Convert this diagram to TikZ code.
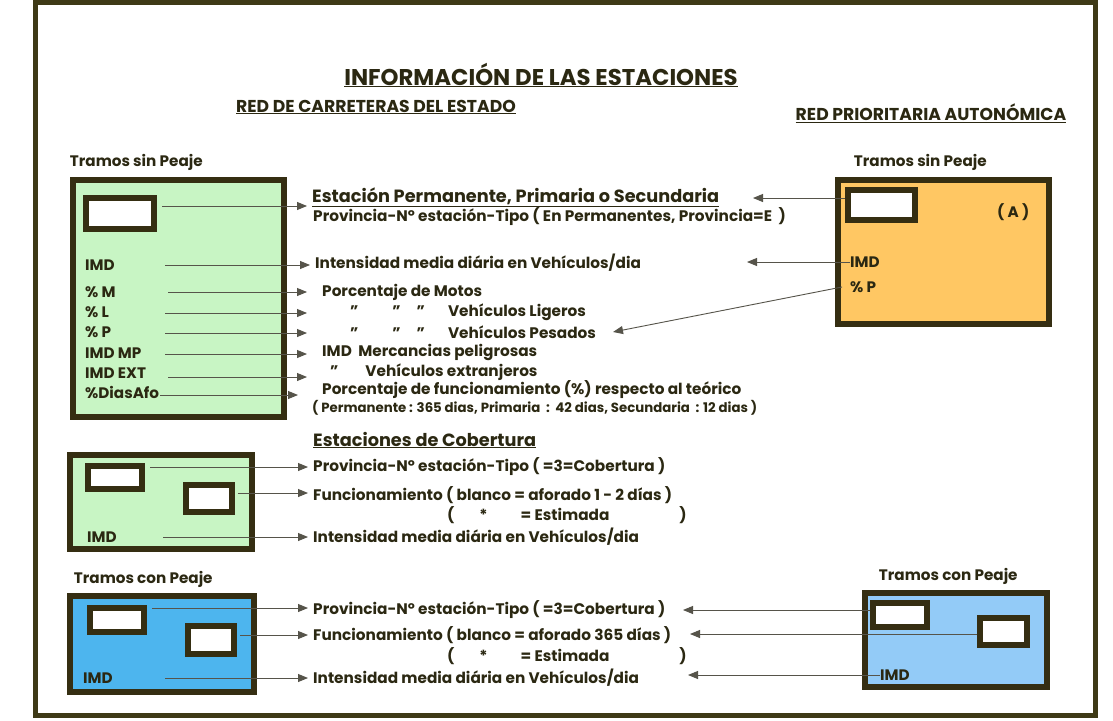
\documentclass[tikz,border=0pt]{standalone}
\usepackage{fontspec}
\setmainfont{Poppins}
\usepackage{tikz}
\usetikzlibrary{arrows.meta,positioning}
\definecolor{FrameOlive}{HTML}{3E3A16}
\definecolor{EdgeBrown}{HTML}{352E12}
\definecolor{InkDark}{HTML}{2B2812}
\definecolor{LineGrey}{HTML}{56544A}
\definecolor{SoftMint}{HTML}{C8F5C4}
\definecolor{SoftOrange}{HTML}{FFC763}
\definecolor{SkyBlue}{HTML}{4DB5EE}
\definecolor{PaleBlue}{HTML}{93CBF7}
\tikzset{
  % Station box
  SB/.style={rectangle,draw=EdgeBrown,line width=6.5pt,inner sep=0pt},
  % White code box
  WB/.style={rectangle,draw=EdgeBrown,fill=white,line width=5.5pt,inner sep=0pt},
  % Fill variants
  sG/.style={SB,fill=SoftMint},
  sO/.style={SB,fill=SoftOrange},
  sB/.style={SB,fill=SkyBlue},
  sP/.style={SB,fill=PaleBlue},
  % Text styles
  TT/.style={inner sep=0pt,text=InkDark,font=\fontsize{22.8}{27}\selectfont\bfseries},
  HD/.style={inner sep=0pt,text=InkDark,font=\fontsize{17.2}{20}\selectfont\bfseries},
  tx/.style={anchor=west,inner sep=0pt,text=InkDark,font=\fontsize{15.3}{18}\selectfont\bfseries},
  tb/.style={tx,font=\fontsize{17.7}{21}\selectfont\bfseries},
  ts/.style={tx,font=\fontsize{13.3}{16}\selectfont\bfseries},
  lb/.style={tx,font=\fontsize{15.2}{18}\selectfont\bfseries},
  % Arrows
  arr/.style={-{Triangle[length=10pt,width=8pt]},line width=0.9pt,draw=LineGrey},
  arrT/.style={arr,shorten >=5pt}
}

\begin{document}
\begin{tikzpicture}[x=1pt,y=-1pt]
  \useasboundingbox (0,0) rectangle (1113,720);
  \fill[white] (0,0) rectangle (1113,720);
  \draw[FrameOlive,line width=5pt] (35,2) rectangle (1095,715);

  \node[TT] (title) at (541,75)  {\underline{INFORMACIÓN DE LAS ESTACIONES}};
  \node[HD] (rce)   at (376,107) {\underline{RED DE CARRETERAS DEL ESTADO}};
  \node[HD] (rpa)   at (931,113) {\underline{RED PRIORITARIA AUTONÓMICA}};

  % State network, no toll
  \node[sG,minimum width=211pt,minimum height=237pt] (gbox) at (178.5,298.5) {};
  \node[lb,above right=6pt and 0pt of gbox.north west] (gtr) {Tramos sin Peaje};
  \node[WB,minimum width=68pt,minimum height=31pt] (gwb) at (120,213.5) {};
  \node[lb] (gimd) at (85,265) {IMD};
  \node[lb] (gm)   at (85,292) {\% M};
  \node[lb] (gl)   at (85,312) {\% L};
  \node[lb] (gp)   at (85,332) {\% P};
  \node[lb] (gmp)  at (85,353) {IMD MP};
  \node[lb] (gext) at (85,373) {IMD EXT};
  \node[lb] (gafo) at (85,392) {\%DiasAfo};

  \node[tb] (t0) at (312,197) {\underline{Estación Permanente, Primaria o Secundaria}};
  \node[tx] (t1) at (313,217) {Provincia-Nº estación-Tipo ( En Permanentes, Provincia=E~~)};
  \node[tx] (t2) at (315,263) {Intensidad media diária en Vehículos/dia};
  \node[tx] (t3) at (322,292) {Porcentaje de Motos};
  \node[tx] (t4) at (350,312) {"\hspace{34pt}"\hspace{16pt}"\hspace{23pt}Vehículos Ligeros};
  \node[tx] (t5) at (350,332) {"\hspace{34pt}"\hspace{16pt}"\hspace{23pt}Vehículos Pesados};
  \node[tx] (t6) at (322,352) {IMD~~Mercancias peligrosas};
  \node[tx] (t7) at (330,372) {"\hspace{27pt}Vehículos extranjeros};
  \node[tx] (t8) at (322,390) {Porcentaje de funcionamiento (\%) respecto al teórico};
  \node[ts] (t9) at (312,408) {( Permanente : 365 dias, Primaria~~:~~42 dias, Secundaria~~: 12 dias )};

  \coordinate (g0) at (162,206);
  \coordinate (g1) at (165,265);
  \coordinate (g2) at (168,292);
  \coordinate (g3) at (165,313);
  \coordinate (g4) at (165,333);
  \coordinate (g5) at (165,354);
  \coordinate (g6) at (168,377);
  \coordinate (g7) at (160,395);
  \draw[arrT] (g0) -- (g0 -| t0.west);
  \draw[arrT] (g1) -- (g1 -| t2.west);
  \foreach \s in {g2,g3,g4,g5,g6}
    \draw[arrT] (\s) -- (\s -| t0.west);
  \draw[arr] (g7) -- (g7 -| 298,0);

  % Autonomous priority network
  \node[sO,minimum width=211pt,minimum height=144pt] (obox) at (943.5,252) {};
  \node[lb,above right=6pt and 19pt of obox.north west] (otr) {Tramos sin Peaje};
  \node[WB,minimum width=67pt,minimum height=30pt] (owb) at (881.5,205) {};
  \node[lb] (oA)   at (997,212) {( A )};
  \node[lb] (oimd) at (850,262) {IMD};
  \node[lb] (op)   at (850,287) {\% P};
  \coordinate (k0) at (753,198);
  \coordinate (k1) at (747,262);
  \coordinate (k2) at (613,332);
  \draw[arr] ([yshift=7pt]owb.west) -- (k0);
  \draw[arr] (oimd.west) -- (k1);
  \draw[arr] ([xshift=-8pt]op.west) -- (k2);

  % Coverage stations
  \node[tb] (c0) at (313,440) {\underline{Estaciones de Cobertura}};
  \node[sG,minimum width=182pt,minimum height=94pt] (cbox) at (161,502) {};
  \node[WB,minimum width=54pt,minimum height=23pt] (cw1) at (115,477.5) {};
  \node[WB,minimum width=46pt,minimum height=27pt] (cw2) at (209,498.5) {};
  \node[lb] (cimd) at (87,537) {IMD};
  \node[tx] (c1) at (313,467) {Provincia-Nº estación-Tipo ( =3=Cobertura )};
  \node[tx] (c2) at (313,495) {Funcionamiento ( blanco = aforado 1 - 2 días )};
  \node[tx] (c3) at (447,515) {(\hspace{25pt}*\hspace{33pt}= Estimada\hspace{70pt})};
  \node[tx] (c4) at (313,537) {Intensidad media diária en Vehículos/dia};
  \coordinate (h1) at (150,467);
  \coordinate (h2) at (238,493);
  \coordinate (h3) at (163,537);
  \draw[arrT] (h1) -- (h1 -| c1.west);
  \draw[arrT] (h2) -- (h2 -| c2.west);
  \draw[arrT] (h3) -- (h3 -| c4.west);

  % Toll sections
  \node[sB,minimum width=184pt,minimum height=96pt] (bbox) at (162,644) {};
  \node[lb,above right=5pt and 7pt of bbox.north west] (btr) {Tramos con Peaje};
  \node[WB,minimum width=54pt,minimum height=24pt] (bw1) at (117,620) {};
  \node[WB,minimum width=46pt,minimum height=28pt] (bw2) at (211,640) {};
  \node[lb] (bimd) at (83,678) {IMD};
  \node[tx] (b1) at (313,610) {Provincia-Nº estación-Tipo ( =3=Cobertura )};
  \node[tx] (b2) at (313,635) {Funcionamiento ( blanco = aforado 365 días )};
  \node[tx] (b3) at (447,656) {(\hspace{25pt}*\hspace{33pt}= Estimada\hspace{70pt})};
  \node[tx] (b4) at (313,678) {Intensidad media diária en Vehículos/dia};
  \coordinate (j1) at (152,608);
  \coordinate (j2) at (240,635);
  \coordinate (j3) at (165,678);
  \draw[arrT] (j1) -- (j1 -| b1.west);
  \draw[arrT] (j2) -- (j2 -| b2.west);
  \draw[arrT] (j3) -- (j3 -| b4.west);

  \node[sP,minimum width=182pt,minimum height=94pt] (pbox) at (956,640) {};
  \node[lb,above right=5pt and 17pt of pbox.north west] (ptr) {Tramos con Peaje};
  \node[WB,minimum width=54pt,minimum height=24pt] (pw1) at (900,615) {};
  \node[WB,minimum width=47pt,minimum height=27pt] (pw2) at (1003.5,631.5) {};
  \node[lb] (pimd) at (880,675) {IMD};
  \coordinate (k3) at (683,610);
  \coordinate (k4) at (690,634);
  \coordinate (k5) at (688,676);
  \draw[arr] ([yshift=5pt]pw1.west) -- (k3);
  \draw[arr] ([yshift=-2.5pt]pw2.west) -- (k4);
  \draw[arr] (pimd.west) -- (pimd.west -| k5);
\end{tikzpicture}
\end{document}
